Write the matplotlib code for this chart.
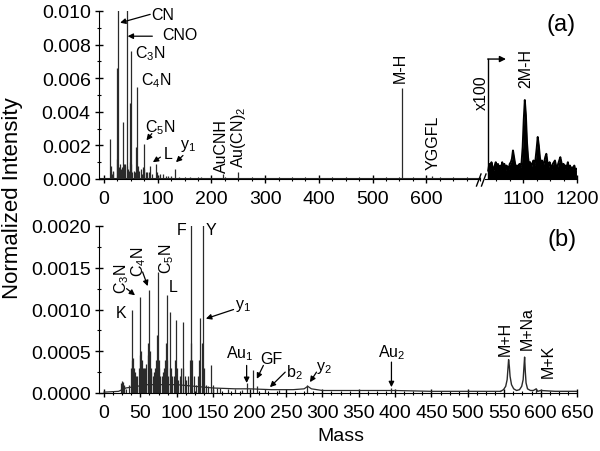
import matplotlib
matplotlib.use("Agg")
import matplotlib.pyplot as plt
from matplotlib.ticker import MultipleLocator, FormatStrFormatter
from matplotlib.lines import Line2D

plt.rcParams['font.family'] = ['Liberation Sans', 'DejaVu Sans']
plt.rcParams['mathtext.fontset'] = 'custom'
plt.rcParams['mathtext.rm'] = 'Liberation Sans'
plt.rcParams['mathtext.it'] = 'Liberation Sans'
plt.rcParams['mathtext.default'] = 'regular'

# ---------------- data: panel (a) (negative ions) ----------------
a_mass = [12, 13, 14, 16, 17, 24, 25, 26, 28, 30, 32, 34, 36, 37, 38, 40, 42, 43, 44, 46,
          48, 49, 50, 51, 53, 55, 57, 60, 62, 63, 66, 68, 70, 72, 74, 75, 78, 80, 84, 86,
          90, 97, 98, 100, 104, 110, 116, 120, 124, 132, 140, 160, 180, 222, 249, 554, 610]
a_int = [0.0024, 0.0008, 0.0003, 0.0005, 0.0004, 0.0066, 0.0012, 0.0125, 0.0007, 0.0009,
         0.0006, 0.0007, 0.0034, 0.0009, 0.0008, 0.0009, 0.0125, 0.0008, 0.0006, 0.0005,
         0.0045, 0.0010, 0.0076, 0.0009, 0.0004, 0.0005, 0.0004, 0.0019, 0.0055, 0.0008,
         0.0005, 0.0006, 0.0003, 0.0007, 0.0021, 0.0006, 0.0004, 0.0004, 0.0004, 0.0008,
         0.0003, 0.0009, 0.0004, 0.0002, 0.0003, 0.0003, 0.0002, 0.0002, 0.0002, 0.0006,
         0.0001, 0.0001, 0.0001, 0.0003, 0.0004, 0.0054, 0.0002]

# x100 expanded dimer region (true intensities x 1e-5)
a_zoom_mass = [1035, 1037, 1039, 1041, 1043, 1045, 1047, 1049, 1051, 1053, 1055, 1057, 1059,
               1061, 1063, 1065, 1067, 1069, 1071, 1073, 1075, 1077, 1079, 1081, 1083, 1085,
               1087, 1089, 1091, 1093, 1095, 1097, 1099, 1101, 1103, 1105, 1107, 1109, 1111,
               1113, 1115, 1117, 1119, 1121, 1123, 1125, 1127, 1129, 1131, 1133, 1135, 1137,
               1139, 1141, 1143, 1145, 1147, 1149, 1151, 1153, 1155, 1157, 1159, 1161, 1163,
               1165, 1167, 1169, 1171, 1173, 1175, 1177, 1179, 1181, 1183, 1185, 1187, 1189,
               1191, 1193, 1195, 1197, 1199]
a_zoom_int = [0.5, 0.9, 0.6, 1.0, 0.7, 0.5, 0.8, 1.0, 0.6, 0.9, 0.5, 0.8, 0.6, 1.0, 0.7, 0.9,
              0.5, 0.8, 0.7, 0.6, 0.9, 1.0, 1.2, 1.7, 1.3, 0.9, 0.7, 0.8, 0.6, 0.9, 0.7, 1.0,
              1.9, 3.5, 4.7, 3.8, 2.2, 1.3, 0.8, 1.0, 0.7, 0.9, 1.1, 0.8, 1.2, 1.8, 2.5, 2.0,
              1.3, 0.9, 1.1, 0.8, 1.0, 1.3, 1.5, 1.0, 0.7, 1.0, 0.8, 0.6, 0.9, 1.0, 1.1, 0.8,
              0.6, 0.9, 1.1, 1.3, 1.0, 0.7, 0.9, 0.6, 0.8, 0.7, 1.0, 0.6, 0.8, 0.5, 0.7, 0.6,
              0.8, 0.5, 0.6]
zoom_factor = 100

# ---------------- data: panel (b) (positive ions) ----------------
b_mass = [24, 25, 26, 27, 28, 30, 35, 37, 38, 39, 40, 41, 43, 44, 45, 46, 48, 49, 50, 51,
          52, 53, 55, 56, 57, 58, 60, 61, 62, 63, 64, 65, 67, 68, 69, 70, 72, 73, 74, 75,
          76, 77, 79, 81, 83, 84, 85, 86, 87, 88, 90, 91, 92, 94, 96, 98, 99, 100, 102, 104,
          106, 108, 109, 111, 113, 116, 118, 119, 120, 121, 123, 126, 129, 131, 132, 134, 136,
          137, 140, 143, 147, 150, 155, 160, 170, 180, 190, 197, 205, 210, 221, 240, 279, 394,
          594]
b_int = [0.00012, 0.00014, 0.00013, 0.00008, 0.00010, 0.00005, 0.00010, 0.00030, 0.00040,
         0.00099, 0.00042, 0.00030, 0.00025, 0.00020, 0.00020, 0.00010, 0.00030, 0.00045,
         0.00115, 0.00050, 0.00040, 0.00030, 0.00030, 0.00025, 0.00030, 0.00035, 0.00045,
         0.00060, 0.00123, 0.00050, 0.00030, 0.00025, 0.00020, 0.00020, 0.00025, 0.00030,
         0.00040, 0.00070, 0.00145, 0.00040, 0.00030, 0.00020, 0.00020, 0.00025, 0.00030,
         0.00040, 0.00060, 0.00117, 0.00040, 0.00020, 0.00030, 0.00097, 0.00030, 0.00020,
         0.00020, 0.00040, 0.00087, 0.00030, 0.00015, 0.00020, 0.00030, 0.00085, 0.00030,
         0.00020, 0.00015, 0.00020, 0.00040, 0.00060, 0.00250, 0.00040, 0.00020, 0.00010,
         0.00020, 0.00040, 0.00090, 0.00060, 0.00250, 0.00030, 0.00010, 0.00008, 0.00033,
         0.00010, 0.00006, 0.00006, 0.00005, 0.00005, 0.00004, 0.00012, 0.00027, 0.00008,
         0.00005, 0.00003, 0.00010, 0.00006, 0.00005]

b_base_mass = [0, 20, 30, 60, 100, 150, 180, 200, 230, 260, 275, 280, 285, 300, 350, 400, 450,
               500, 540, 545]
b_base_int = [0.00001, 0.00002, 0.00006, 0.00010, 0.00010, 0.00006, 0.00005, 0.00005, 0.00004,
              0.00004, 0.00005, 0.00008, 0.00005, 0.00003, 0.00003, 0.00003, 0.00002, 0.00002,
              0.00002, 0.00002]

b_mol_mass = [545, 549, 552, 554, 555, 556, 557, 558, 560, 563, 567, 571, 574, 576, 577, 578,
              579, 580, 582, 586, 590, 594, 596, 600, 620, 650]
b_mol_int = [0.00002, 0.00004, 0.00008, 0.00016, 0.00028, 0.00040, 0.00032, 0.00020, 0.00010,
             0.00005, 0.00003, 0.00004, 0.00008, 0.00016, 0.00030, 0.00043, 0.00025, 0.00012,
             0.00005, 0.00003, 0.00003, 0.00005, 0.00002, 0.00003, 0.00002, 0.00002]

# ---------------- figure ----------------
W, H = 600, 452
fig = plt.figure(figsize=(6, 4.52), dpi=100)

def fax(l, t, r, b):
    return fig.add_axes([l / W, 1 - b / H, (r - l) / W, (b - t) / H])

ax1 = fax(99, 12, 480, 180)
ax2 = fax(485, 12, 577, 180)
axb = fax(99, 227, 577, 394)

line_col = '#2a2a2a'
FS_TICK = 14
FS_ANN = 11.5

def style(ax):
    for s in ('top', 'right'):
        ax.spines[s].set_visible(False)
    ax.tick_params(which='both', direction='inout', labelsize=FS_TICK, pad=3)
    ax.tick_params(which='major', length=6, width=1)
    ax.tick_params(which='minor', length=3.5, width=0.8)

# panel (a) left
ax1.vlines(a_mass, 0, a_int, color=line_col, lw=0.9)
ax1.plot([-9.3, 700], [0.00003, 0.00003], color=line_col, lw=0.8)
ax1.set_xlim(-9.3, 700)
ax1.set_ylim(0, 0.010)
style(ax1)
ax1.xaxis.set_major_locator(MultipleLocator(100))
ax1.xaxis.set_minor_locator(MultipleLocator(25))
ax1.yaxis.set_major_locator(MultipleLocator(0.002))
ax1.yaxis.set_minor_locator(MultipleLocator(0.001))
ax1.yaxis.set_major_formatter(FormatStrFormatter('%.3f'))
ax1.set_xticks([0, 100, 200, 300, 400, 500, 600])
ax1.tick_params(axis='x', pad=5)

# panel (a) right (x100)
zi = [v * 1e-5 * zoom_factor for v in a_zoom_int]
ax2.fill_between(a_zoom_mass, 0, zi, color='black', lw=0)
ax2.plot(a_zoom_mass, zi, color='black', lw=1.4)
ax2.set_xlim(1029, 1200)
ax2.set_ylim(0, 0.010)
style(ax2)
ax2.spines['left'].set_visible(False)
ax2.yaxis.set_visible(False)
ax2.xaxis.set_major_locator(MultipleLocator(100))
ax2.xaxis.set_minor_locator(MultipleLocator(25))
ax2.set_xticks([1100, 1200])
ax2.tick_params(axis='x', pad=5)
ax2.patch.set_alpha(0)

# break marks
for x0 in (476.5, 481.5):
    fig.add_artist(Line2D([x0 / W, (x0 + 4.5) / W], [1 - 187 / H, 1 - 175 / H],
                          color='black', lw=1))

# x100 marker
ax2.plot([1035, 1035], [0, 0.00714], color='black', lw=1)
ax2.annotate('', xy=(1068, 0.00714), xytext=(1034, 0.00714),
             arrowprops=dict(arrowstyle='-|>', color='black', lw=1, mutation_scale=9,
                             shrinkA=0, shrinkB=0))
ax2.text(1023, 0.0052, 'x100', rotation=90, ha='center', va='center', fontsize=FS_ANN,
         clip_on=False)
ax2.text(1104, 0.0055, '2M-H', rotation=90, ha='center', va='bottom', fontsize=FS_ANN)
ax2.text(1171, 0.0092, '(a)', ha='center', va='center', fontsize=17)

def arrow(ax, head, tail):
    ax.annotate('', xy=head, xytext=tail,
                arrowprops=dict(arrowstyle='-|>', color='black', lw=0.9, mutation_scale=8,
                                shrinkA=0, shrinkB=0))

# panel (a) labels
ax1.text(110, 0.0098, 'CN', ha='center', va='center', fontsize=FS_ANN)
arrow(ax1, (30, 0.0093), (86, 0.0098))
ax1.text(142, 0.0086, 'CNO', ha='center', va='center', fontsize=FS_ANN)
arrow(ax1, (44, 0.0085), (90, 0.0085))
ax1.text(86, 0.0075, 'C$_3$N', ha='center', va='center', fontsize=FS_ANN)
ax1.text(98, 0.0059, 'C$_4$N', ha='center', va='center', fontsize=FS_ANN)
ax1.text(104, 0.0031, 'C$_5$N', ha='center', va='center', fontsize=FS_ANN)
arrow(ax1, (79, 0.0023), (89, 0.0027))
ax1.text(119, 0.0015, 'L', ha='center', va='center', fontsize=FS_ANN)
arrow(ax1, (91, 0.0010), (105, 0.0013))
ax1.text(157, 0.0020, 'y$_1$', ha='center', va='center', fontsize=FS_ANN)
arrow(ax1, (134, 0.0010), (147, 0.0014))
ax1.text(219, 0.00043, 'AuCNH', rotation=90, ha='center', va='bottom', fontsize=FS_ANN)
ax1.text(250, 0.00070, 'Au(CN)$_2$', rotation=90, ha='center', va='bottom', fontsize=FS_ANN)
ax1.text(551, 0.0058, 'M-H', rotation=90, ha='center', va='bottom', fontsize=FS_ANN)
ax1.text(613, 0.0006, 'YGGFL', rotation=90, ha='center', va='bottom', fontsize=FS_ANN)

# panel (b)
axb.plot(b_base_mass, b_base_int, color=line_col, lw=0.9)
axb.vlines(b_mass, 0, b_int, color=line_col, lw=0.9)
axb.plot(b_mol_mass, b_mol_int, color=line_col, lw=1.0)
axb.set_xlim(-6.9, 650)
axb.set_ylim(0, 0.0020)
style(axb)
axb.xaxis.set_major_locator(MultipleLocator(50))
axb.xaxis.set_minor_locator(MultipleLocator(12.5))
axb.yaxis.set_major_locator(MultipleLocator(0.0005))
axb.yaxis.set_minor_locator(MultipleLocator(0.00025))
axb.yaxis.set_major_formatter(FormatStrFormatter('%.4f'))
axb.tick_params(axis='x', pad=5)

axb.text(24, 0.00097, 'K', ha='center', va='center', fontsize=FS_ANN)
axb.text(24.4, 0.00138, 'C$_3$N', rotation=90, ha='center', va='center', fontsize=FS_ANN)
arrow(axb, (42.6, 0.00117), (31, 0.00125))
axb.text(47, 0.00158, 'C$_4$N', rotation=90, ha='center', va='center', fontsize=FS_ANN)
arrow(axb, (60, 0.00128), (53, 0.00145))
axb.text(86, 0.00162, 'C$_5$N', rotation=90, ha='center', va='center', fontsize=FS_ANN)
axb.text(95, 0.00127, 'L', ha='center', va='center', fontsize=FS_ANN)
axb.text(106, 0.00196, 'F', ha='center', va='center', fontsize=FS_ANN)
axb.text(146.5, 0.00196, 'Y', ha='center', va='center', fontsize=FS_ANN)
axb.text(191, 0.00105, 'y$_1$', ha='center', va='center', fontsize=FS_ANN)
arrow(axb, (140, 0.00089), (178, 0.0010))
axb.text(187, 0.00048, 'Au$_1$', ha='center', va='center', fontsize=FS_ANN)
arrow(axb, (196, 0.00012), (196, 0.00033))
axb.text(230, 0.00041, 'GF', ha='center', va='center', fontsize=FS_ANN)
arrow(axb, (210, 0.00017), (219, 0.00033))
axb.text(262, 0.00025, 'b$_2$', ha='center', va='center', fontsize=FS_ANN)
arrow(axb, (228, 0.00007), (249, 0.00025))
axb.text(302, 0.00031, 'y$_2$', ha='center', va='center', fontsize=FS_ANN)
arrow(axb, (283, 0.00013), (292, 0.00025))
axb.text(395, 0.00050, 'Au$_2$', ha='center', va='center', fontsize=FS_ANN)
arrow(axb, (395, 0.00007), (395, 0.00037))
axb.text(551, 0.00045, 'M+H', rotation=90, ha='center', va='bottom', fontsize=FS_ANN)
axb.text(582, 0.00053, 'M+Na', rotation=90, ha='center', va='bottom', fontsize=FS_ANN)
axb.text(610, 0.00019, 'M+K', rotation=90, ha='center', va='bottom', fontsize=FS_ANN)
axb.text(629, 0.00184, '(b)', ha='center', va='center', fontsize=17)

fig.text(0.003, 0.561, 'Normalized Intensity', rotation=90, ha='left', va='center',
         fontsize=16)
fig.text(341 / W, 1 - 437 / H, 'Mass', ha='center', va='center', fontsize=14)

fig.savefig('out.png', dpi=100)
